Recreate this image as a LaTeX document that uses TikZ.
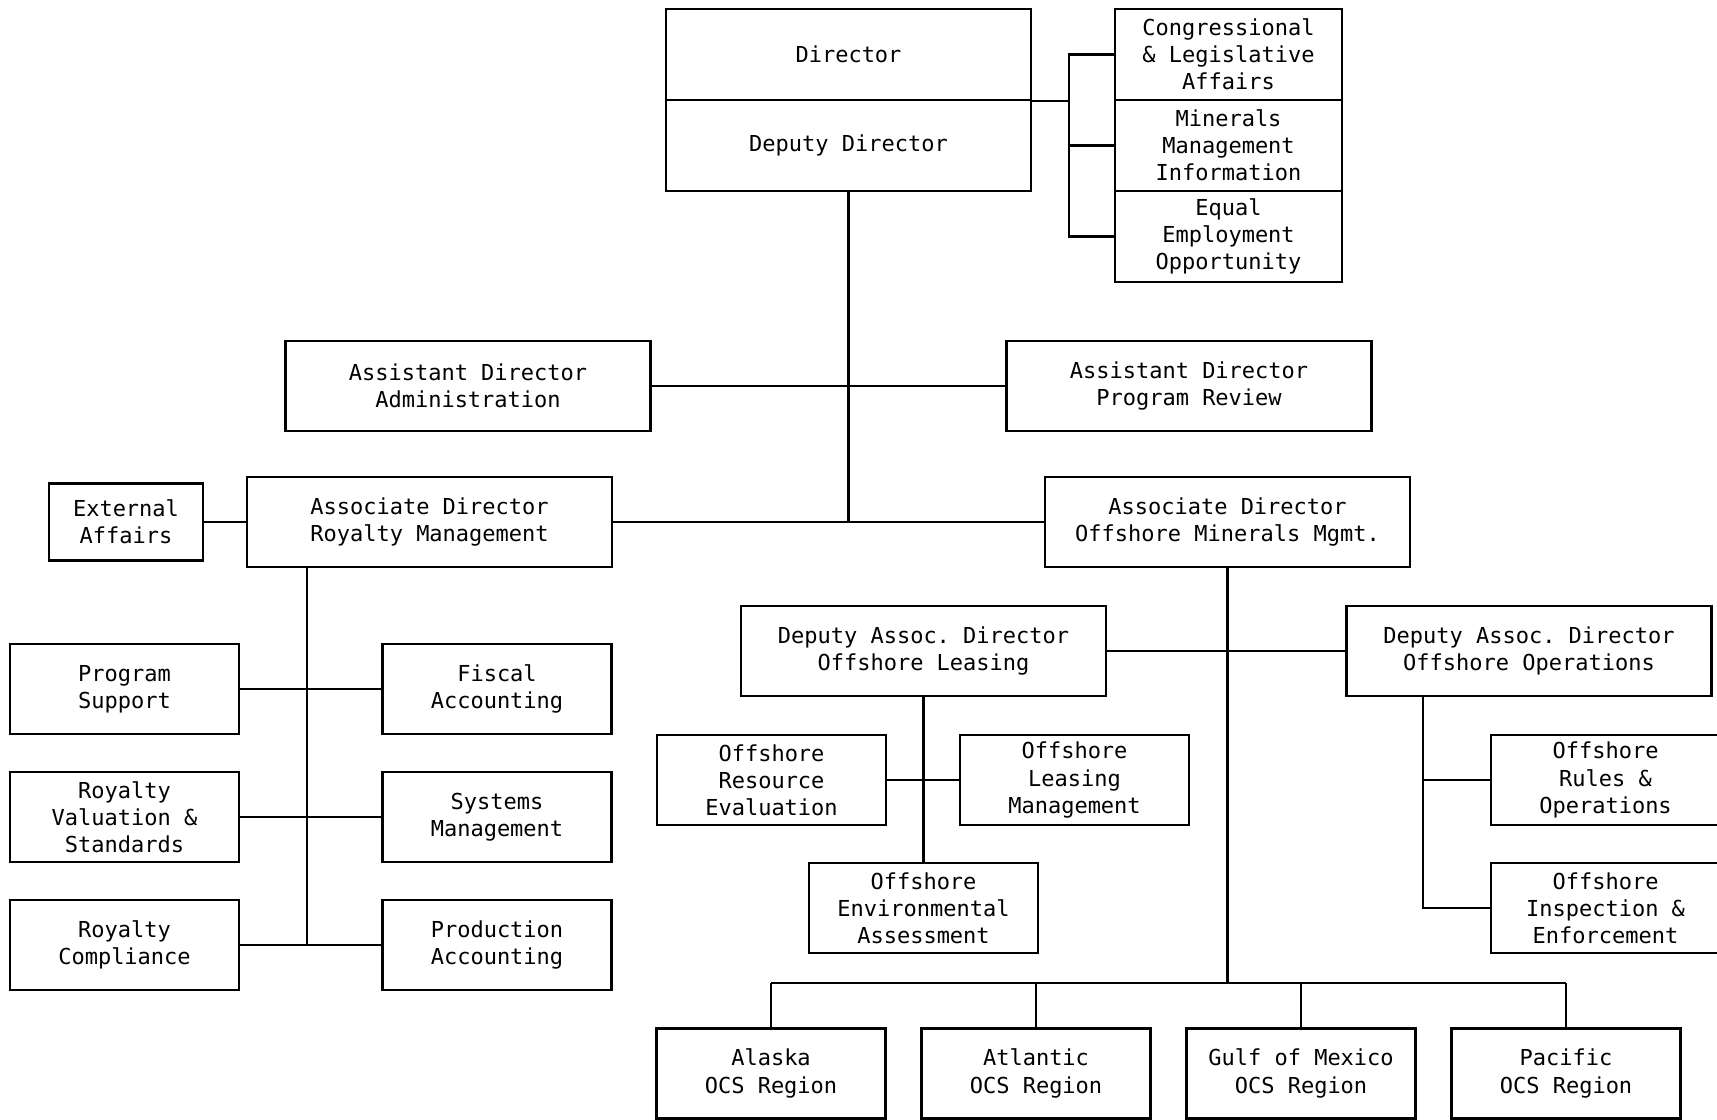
\documentclass[tikz,border=0pt]{standalone}
\usepackage{fontspec}
\setmonofont{DejaVu Sans Mono}
\begin{document}
\begin{tikzpicture}[x=0.5pt,y=-0.5pt,
		unit/.style={draw,line width=1.1pt,inner sep=0pt,align=center,minimum width=\boxwide,minimum height=\boxhigh,font=\ttfamily\fontsize{11}{13.6}\selectfont},
		small/.style={unit,minimum width=\boxnarrow},
		link/.style={line width=1.1pt}]
			\def\boxwide{182.5pt}
			\def\boxnarrow{114.5pt}
			\def\boxhigh{45pt}
			\useasboundingbox (0,0) rectangle (1717,1119);
			% director and staff
			\node[unit,minimum height=45.5pt] (dir) at (848.5,54.5) {Director};
			\node[unit,minimum height=45.5pt] (dep) at (848.5,145.5) {Deputy Director};
			\foreach \y/\name/\text in {54.5/cla/{Congressional\\\& Legislative\\Affairs},145.5/mmi/{Minerals\\Management\\Information},236.5/eeo/{Equal\\Employment\\Opportunity}}
				\node[small,minimum width=113.5pt,minimum height=45.5pt] (\name) at (1228.5,\y) {\text};
			% assistant directors
			\node[unit] (admin) at (468,386) {Assistant Director\\Administration};
			\node[unit] (review) at (1189,386) {Assistant Director\\Program Review};
			% associate directors
			\node[unit] (royal) at (429.5,522) {Associate Director\\Royalty Management};
			\node[unit] (offsh) at (1227.5,522) {Associate Director\\Offshore Minerals Mgmt.};
			\node[unit,minimum width=77pt,minimum height=38.5pt] (ext) at (126,522) {External\\Affairs};
			% royalty divisions
			\foreach \n/\y/\left/\right in {1/689/{Program\\Support}/{Fiscal\\Accounting},2/817/{Royalty\\Valuation \&\\Standards}/{Systems\\Management},3/945/{Royalty\\Compliance}/{Production\\Accounting}}
				{
					\node[small] (rl\n) at (124.5,\y) {\left};
					\node[small] (rr\n) at (497,\y) {\right};
				}
			% offshore
			\node[unit] (dl) at (923.5,651) {Deputy Assoc. Director\\Offshore Leasing};
			\node[unit] (dop) at (1529,651) {Deputy Assoc. Director\\Offshore Operations};
			\node[small] (ore) at (771.5,780) {Offshore\\Resource\\Evaluation};
			\node[small] (olm) at (1074.5,780) {Offshore\\Leasing\\Management};
			\node[small] (env) at (923.5,908) {Offshore\\Environmental\\Assessment};
			\node[small] (orl) at (1605.5,780) {Offshore\\Rules \&\\Operations};
			\node[small] (oie) at (1605.5,908) {Offshore\\Inspection \&\\Enforcement};
			% regions
			\foreach \n/\x/\text in {1/771/Alaska,2/1036/Atlantic,3/1301/Gulf of Mexico,4/1566/Pacific}
				\node[small] (reg\n) at (\x,1073.5) {\text\\OCS Region};
			% lines
			\coordinate (hub) at (848.5,522);
			\draw[link] (dep.south) -- (hub);
			\draw[link] (admin.east) -- (review.west);
			\draw[link] (royal.east) -- (offsh.west);
			\coordinate (bk) at (1069,0);
			\draw[link] (dir.south east) -- (dir.south east -| bk);
			\draw[link] (cla.west) -- (cla.west -| bk) -- (eeo.west -| bk) -- (eeo.west);
			\draw[link] (mmi.west) -- (mmi.west -| bk);
			\draw[link] (ext.east) -- (royal.west);
			\coordinate (rv) at (307,945);
			\draw[link] (royal.south -| rv) -- (rv);
			\foreach \n in {1,2,3}
				\draw[link] (rl\n.east) -- (rr\n.west);
			\coordinate (bus) at (1227.5,983);
			\draw[link] (offsh.south) -- (bus);
			\draw[link] (dl.east) -- (dop.west);
			\draw[link] (dl.south) -- (env.north);
			\draw[link] (ore.east) -- (olm.west);
			\coordinate (ov) at (1423,908);
			\draw[link] (dop.south -| ov) -- (ov) -- (oie.west);
			\draw[link] (ov |- orl.west) -- (orl.west);
			\draw[link] (reg1.north |- bus) -- (reg4.north |- bus);
			\foreach \n in {1,...,4}
				\draw[link] (reg\n.north |- bus) -- (reg\n.north);
\end{tikzpicture}
\end{document}
